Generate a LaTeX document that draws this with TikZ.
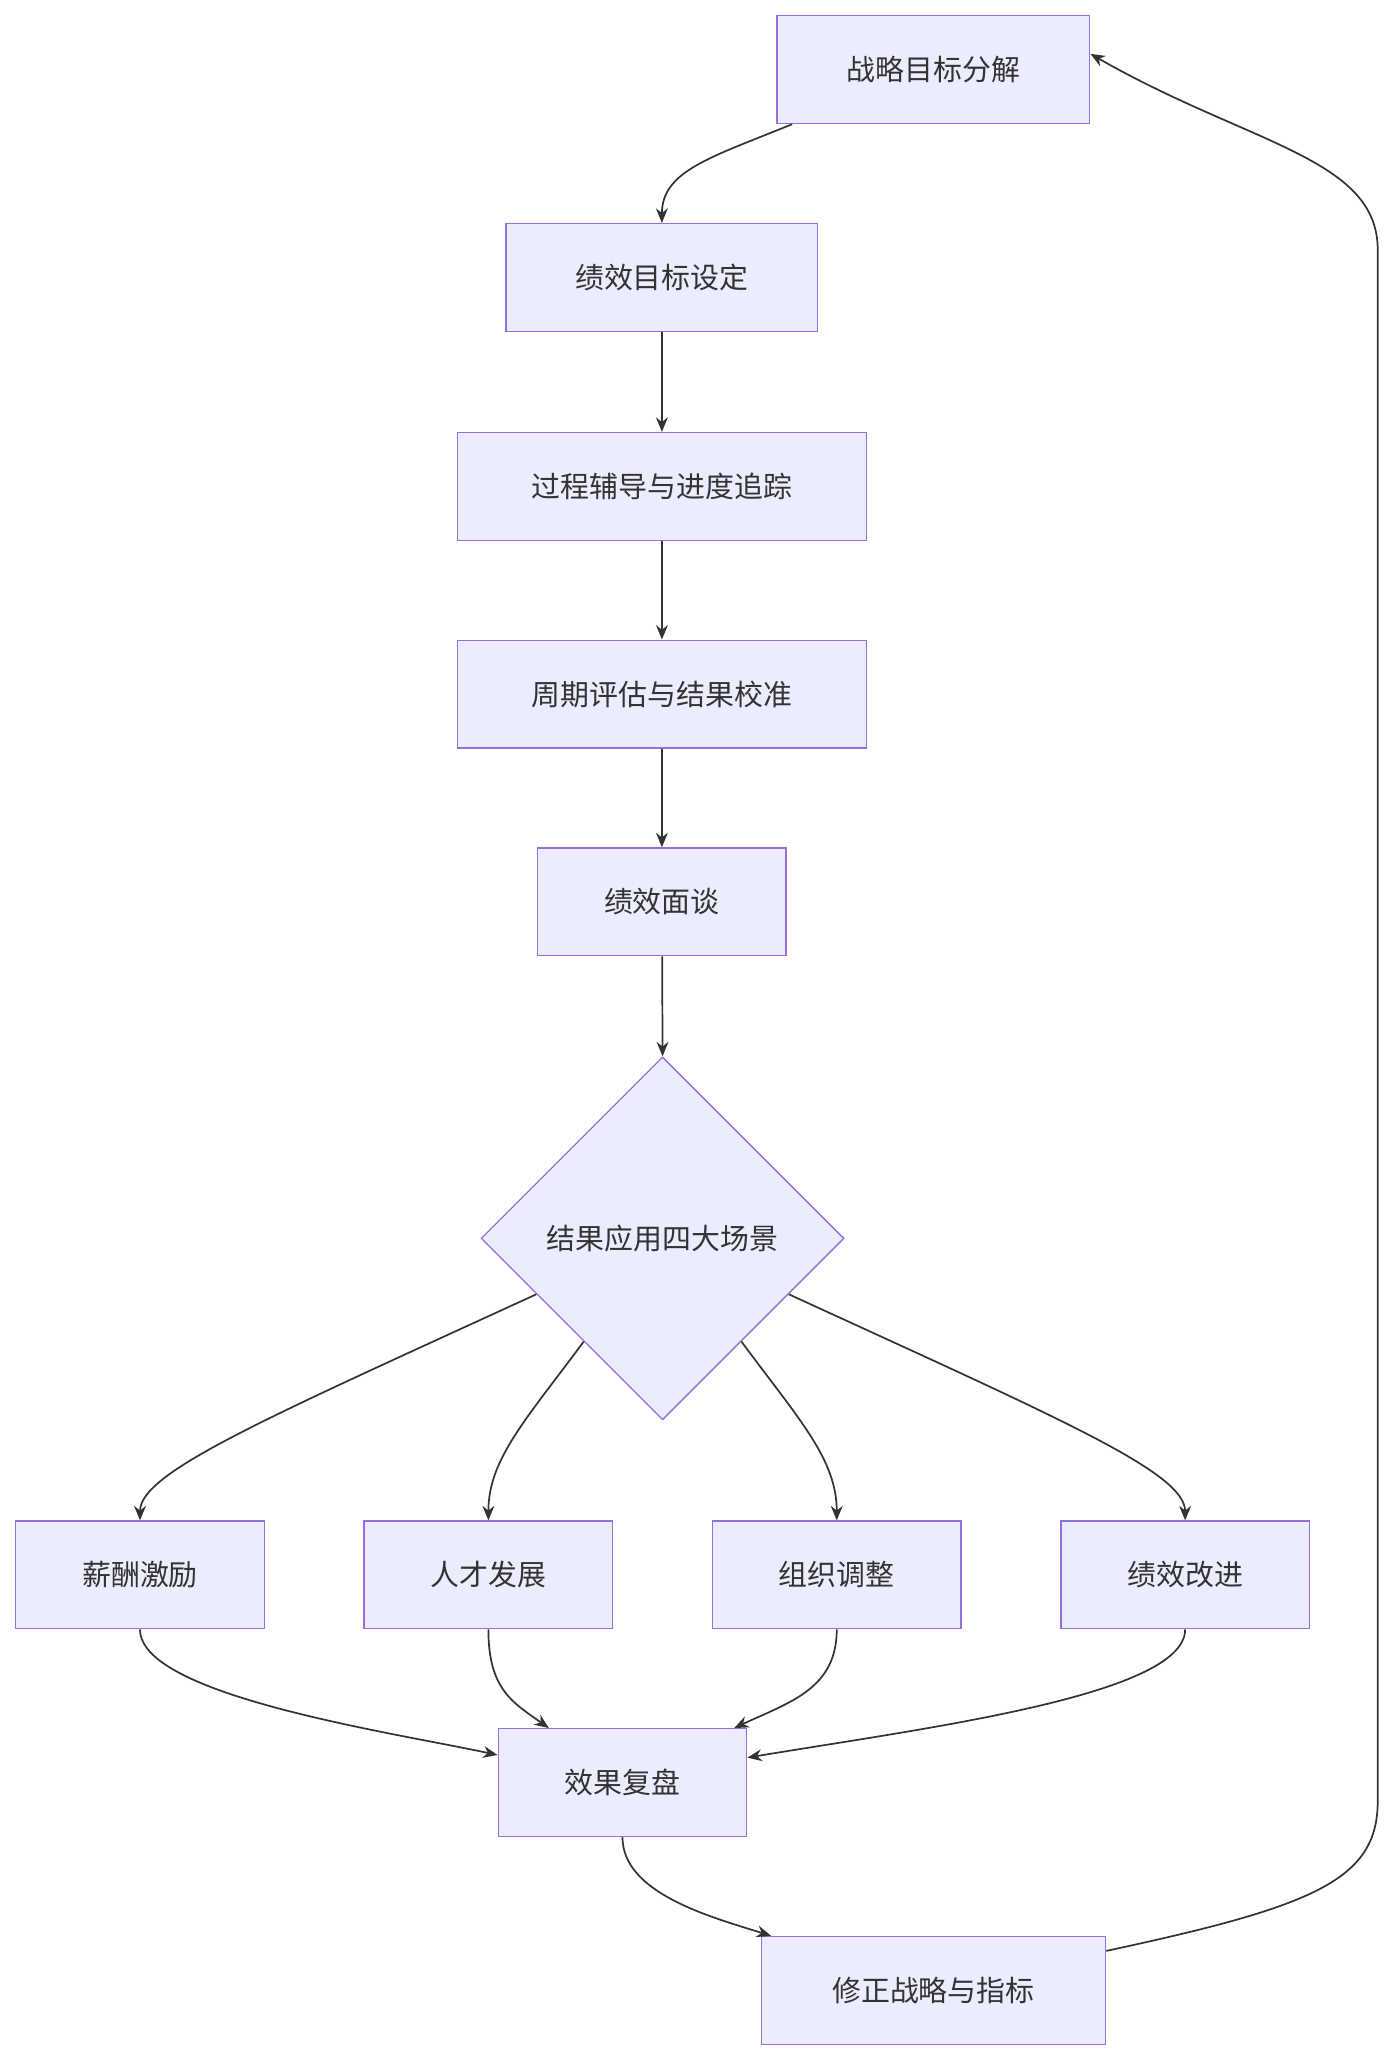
\documentclass[tikz,border=0pt]{standalone}
\usepackage{fontspec}
\setmainfont{Noto Sans CJK SC}
\usetikzlibrary{arrows.meta,shapes.geometric}
\definecolor{boxfill}{HTML}{ECECFF}
\definecolor{boxline}{HTML}{9370DB}
\definecolor{edge}{HTML}{333333}
\begin{document}
\begin{tikzpicture}[x=1pt,y=1pt,yscale=-1,
  box/.style={draw=boxline,fill=boxfill,line width=1pt,minimum height=82pt,inner sep=0pt,font=\fontsize{22}{26}\selectfont,text=edge},
  dec/.style={draw=boxline,fill=boxfill,line width=1pt,diamond,minimum width=276pt,minimum height=276pt,inner sep=0pt,font=\fontsize{22}{26}\selectfont,text=edge},
  arr/.style={draw=edge,line width=1.3pt,-{Stealth[length=11pt,width=9pt]}}]
\path[use as bounding box] (0,0) rectangle (1060,1567);

\node[box,minimum width=238pt] (goal) at (710,53) {战略目标分解};
\node[box,minimum width=237pt] (set) at (503.5,211) {绩效目标设定};
\node[box,minimum width=311pt] (coach) at (503.5,370) {过程辅导与进度追踪};
\node[box,minimum width=311pt] (eval) at (503.5,528) {周期评估与结果校准};
\node[box,minimum width=189pt] (talk) at (503.5,686) {绩效面谈};
\node[dec] (apply) at (504,942) {结果应用四大场景};
\node[box,minimum width=189pt] (pay) at (106.5,1198) {薪酬激励};
\node[box,minimum width=189pt] (talent) at (371.5,1198) {人才发展};
\node[box,minimum width=189pt] (org) at (636.5,1198) {组织调整};
\node[box,minimum width=189pt] (improve) at (901.5,1198) {绩效改进};
\node[box,minimum width=189pt] (review) at (473.5,1356) {效果复盘};
\node[box,minimum width=262pt] (fix) at (710,1514) {修正战略与指标};

% main chain
\draw[arr] ([xshift=12pt]goal.south west) .. controls (540,120) and (503.5,130) .. (set.north);
\draw[arr] (set) -- (coach);
\draw[arr] (coach) -- (eval);
\draw[arr] (eval) -- (talk);
\draw[arr] (talk) -- (apply.north);

% four scenarios
\draw[arr] ([shift={(-96,-96)}]apply.south) .. controls (200,1080) and (106.5,1120) .. (pay.north);
\draw[arr] ([shift={(-60,-60)}]apply.south) .. controls (400,1080) and (371.5,1110) .. (talent.north);
\draw[arr] ([shift={(60,-60)}]apply.south) .. controls (608,1080) and (636.5,1110) .. (org.north);
\draw[arr] ([shift={(96,-96)}]apply.south) .. controls (808,1080) and (901.5,1120) .. (improve.north);

% review
\draw[arr] (pay.south) .. controls (106.5,1290) and (300,1318) .. ([yshift=-21pt]review.west);
\draw[arr] (talent.south) .. controls (371.5,1285) and (390,1295) .. ([xshift=39pt]review.north west);
\draw[arr] (org.south) .. controls (636.5,1285) and (600,1295) .. ([xshift=-10pt]review.north east);
\draw[arr] (improve.south) .. controls (901.5,1290) and (700,1315) .. ([yshift=-19pt]review.east);
\draw[arr] (review.south) .. controls (473.5,1440) and (540,1458) .. ([xshift=8pt]fix.north west);

% feedback loop
\draw[arr] ([yshift=-30pt]fix.east) .. controls (1000,1450) and (1048,1430) .. (1048,1370)
  -- (1048,190) .. controls (1048,120) and (950,110) .. ([yshift=-12pt]goal.east);
\end{tikzpicture}
\end{document}
